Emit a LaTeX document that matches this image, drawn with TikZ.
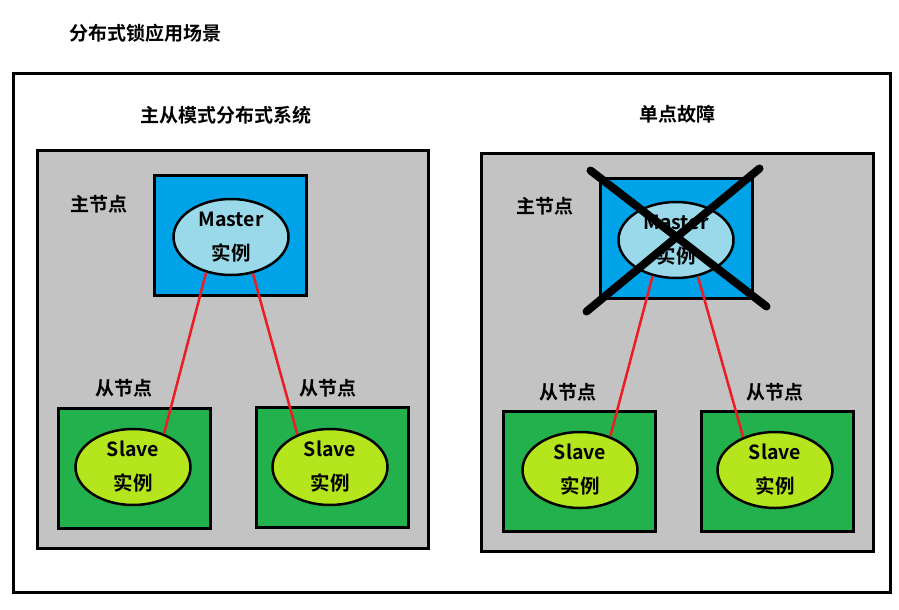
\documentclass[tikz,border=0pt]{standalone}
\usepackage{fontspec}
\setmainfont{Noto Sans CJK SC}[BoldFont={Noto Sans CJK SC Bold}]
\usetikzlibrary{shapes.geometric}
\definecolor{panelgray}{RGB}{195,195,195}
\definecolor{masterblue}{RGB}{0,162,232}
\definecolor{instblue}{RGB}{153,217,234}
\definecolor{slavegreen}{RGB}{34,177,76}
\definecolor{instlime}{RGB}{181,230,29}
\definecolor{linkred}{RGB}{237,28,36}

\begin{document}
\begin{tikzpicture}[x=1pt, y=-1pt,
  label/.style={font=\fontsize{19}{22}\selectfont\bfseries, inner sep=0pt},
  panel/.style={draw, line width=3pt, fill=panelgray, minimum width=#1, minimum height=398pt, inner sep=0pt},
  hostbox/.style={draw, line width=3pt, fill=#1, minimum width=152pt, minimum height=120pt, inner sep=0pt},
  inst/.style={draw, ellipse, line width=2.5pt, fill=#1, minimum width=115pt, minimum height=76pt,
    inner sep=0pt, align=center, font=\fontsize{19.5}{34}\selectfont\bfseries},
  link/.style={draw=linkred, line width=2.5pt},
  cross/.style={line width=8pt, line cap=round}]
  \useasboundingbox (0,0) rectangle (899,610);
  \node[label] (title) at (145,33) {分布式锁应用场景};
  \draw[line width=3pt] (13,73) rectangle (890,592);

  % master / slave
  \node[label] (ltitle) at (226,115) {主从模式分布式系统};
  \node[panel=391pt] (lpanel) at (232.5,349) {};
  \node[hostbox=masterblue] (mhost1) at (230,235.5) {};
  \node[inst=instblue] (m1) at (231,237) {Master\\实例};
  \node[label] at (99,204) {主节点};
  \node[hostbox=slavegreen] (shost1) at (134,468.5) {};
  \node[inst=instlime] (s1) at (133,467) {Slave\\实例};
  \node[label] at (124,388) {从节点};
  \node[hostbox=slavegreen] (shost2) at (332,467) {};
  \node[inst=instlime] (s2) at (330,467) {Slave\\实例};
  \node[label] at (328,388) {从节点};
  \draw[link] (m1.-125) -- (s1.47);
  \draw[link] (m1.-59) -- (s2.135);

  % single point of failure
  \node[label] (rtitle) at (677,114) {单点故障};
  \node[panel=392pt] (rpanel) at (677,352) {};
  \node[hostbox=masterblue] (mhost2) at (676,238) {};
  \node[inst=instblue] (m2) at (676,240) {Master\\实例};
  \node[label] at (545,206) {主节点};
  \node[hostbox=slavegreen] (shost3) at (579.5,471.5) {};
  \node[inst=instlime] (s3) at (580,470) {Slave\\实例};
  \node[label] at (568,392) {从节点};
  \node[hostbox=slavegreen] (shost4) at (777.5,471) {};
  \node[inst=instlime] (s4) at (775,470) {Slave\\实例};
  \node[label] at (775,392) {从节点};
  \draw[link] (m2.-123) -- (s3.48);
  \draw[link] (m2.-59) -- (s4.134);
  \draw[cross] ([shift={(-8,-6)}]mhost2.north west) -- ([shift={(13,7)}]mhost2.south east);
  \draw[cross] ([shift={(6,-8)}]mhost2.north east) -- ([shift={(-12,12)}]mhost2.south west);
\end{tikzpicture}
\end{document}
